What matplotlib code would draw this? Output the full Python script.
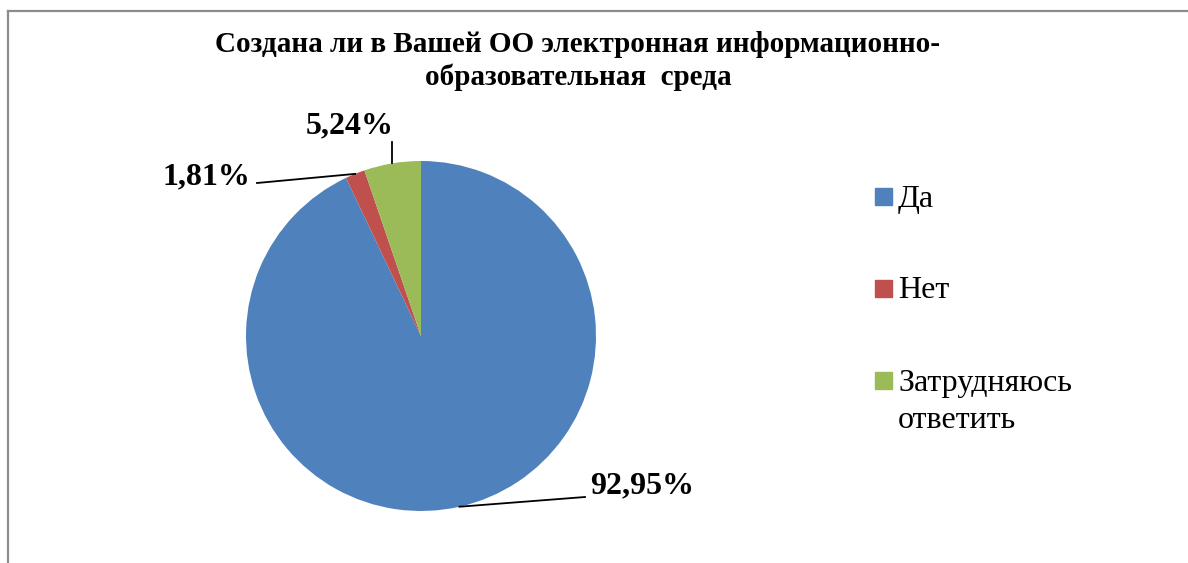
import numpy as np
import matplotlib.pyplot as plt
from matplotlib.lines import Line2D
from matplotlib.patches import Rectangle

plt.rcParams['font.family'] = ['Liberation Serif', 'DejaVu Serif']

title = "Создана ли в Вашей ОО электронная информационно-\nобразовательная  среда"
labels = ["Да", "Нет", "Затрудняюсь\nответить"]
values = [92.95, 1.81, 5.24]
value_text = ["92,95%", "1,81%", "5,24%"]
colors = ["#4F81BD", "#C0504D", "#9BBB59"]

W, H = 1188, 563
fig = plt.figure(figsize=(W / 100, H / 100), dpi=100)
ax = fig.add_axes([0, 0, 1, 1])

# frame (only top and left edges visible in the source)
fig.add_artist(Line2D([8 / W, 8 / W], [0, 1 - 11 / H], color="#8c8c8c", lw=1.6))
fig.add_artist(Line2D([8 / W, 1], [1 - 11 / H, 1 - 11 / H], color="#8c8c8c", lw=1.6))

cx, cy, r = 421, H - 336, 175
wedges, _ = ax.pie(values, colors=colors, startangle=90, counterclock=False,
                   center=(cx, cy), radius=r, frame=True)
ax.set_xlim(0, W)
ax.set_ylim(0, H)
ax.set_aspect("equal")
ax.axis("off")

# leader lines + labels (text anchor, line end near text)
label_pos = [((590, 77), (585, 66), "left"),
             ((250, 386), (257, 380), "right"),
             ((350, 437), (393, 421), "center")]
for w, txt, (tpos, lend, ha) in zip(wedges, value_text, label_pos):
    a = np.deg2rad((w.theta1 + w.theta2) / 2)
    ex, ey = cx + r * np.cos(a), cy + r * np.sin(a)
    if ha == "center":
        ax.plot([ex, ex], [ey, lend[1]], color="black", lw=1.3)
    else:
        ax.plot([ex, lend[0]], [ey, lend[1]], color="black", lw=1.3)
    ax.text(tpos[0], tpos[1], txt, ha=ha, va="center", fontsize=23,
            fontweight="bold")

fig.text(578 / W, 1 - 61 / H, title, ha="center", va="center", fontsize=21,
         fontweight="bold", linespacing=1.25)

# legend (drawn by hand so the swatch sits on the first text line)
leg_y = [H - 196, H - 288, H - 380]
for lab, col, y in zip(labels, colors, leg_y):
    ax.add_patch(Rectangle((875, y - 8.5), 17, 17, color=col, clip_on=False))
    for j, line in enumerate(lab.split("\n")):
        ax.text(898, y - 10.5 - 38 * j, line, ha="left", va="baseline",
                fontsize=23)

fig.savefig("out.png", dpi=100)
